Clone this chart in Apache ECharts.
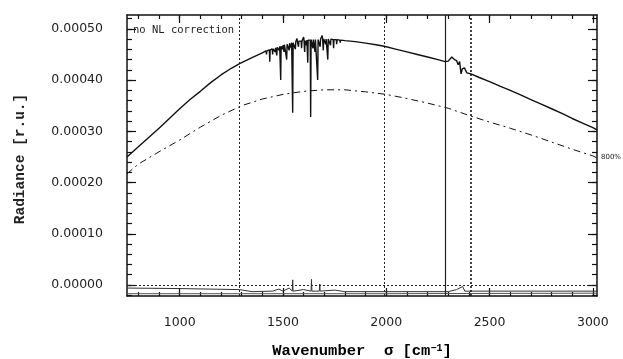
<!DOCTYPE html>
<html><head><meta charset="utf-8">
<script src="https://cdn.jsdelivr.net/npm/echarts@6/dist/echarts.min.js"></script>
<style>html,body{margin:0;padding:0;background:#fff}#c{width:623px;height:359px}</style>
</head><body><div id="c"></div>
<script>
// ---- data (wavenumber in cm^-1, radiance in r.u.) ----
const mainSpectrum = [
 [745,2.50e-4],[800,2.70e-4],[850,2.88e-4],[900,3.06e-4],[950,3.25e-4],[1000,3.44e-4],[1050,3.62e-4],
 [1100,3.78e-4],[1150,3.95e-4],[1200,4.10e-4],[1250,4.23e-4],[1290,4.32e-4],[1350,4.44e-4],[1400,4.53e-4],
 [1418,4.57e-4],[1420,4.50e-4],[1422,4.57e-4],
 [1434,4.59e-4],[1436,4.36e-4],[1438,4.59e-4],
 [1448,4.61e-4],[1450,4.50e-4],[1452,4.61e-4],
 [1460,4.63e-4],[1462,4.55e-4],[1464,4.63e-4],
 [1468,4.64e-4],[1470,4.48e-4],[1472,4.64e-4],
 [1480,4.65e-4],[1482,4.58e-4],[1484,4.66e-4],
 [1487,4.66e-4],[1489,4.00e-4],[1491,4.66e-4],
 [1496,4.67e-4],[1498,4.60e-4],[1500,4.68e-4],
 [1503,4.68e-4],[1505,4.55e-4],[1507,4.69e-4],
 [1516,4.70e-4],[1518,4.40e-4],[1520,4.70e-4],
 [1528,4.71e-4],[1530,4.58e-4],[1532,4.72e-4],
 [1538,4.72e-4],[1540,4.62e-4],[1542,4.73e-4],
 [1545,4.73e-4],[1547,3.36e-4],[1549,4.73e-4],
 [1558,4.74e-4],[1560,4.60e-4],[1562,4.75e-4],
 [1566,4.75e-4],[1568,4.81e-4],[1570,4.75e-4],
 [1573,4.76e-4],[1575,4.65e-4],[1577,4.76e-4],
 [1588,4.76e-4],[1590,4.62e-4],[1592,4.76e-4],
 [1598,4.77e-4],[1600,4.84e-4],[1602,4.77e-4],
 [1603,4.77e-4],[1605,4.55e-4],[1607,4.77e-4],
 [1612,4.78e-4],[1614,4.68e-4],[1616,4.78e-4],
 [1618,4.78e-4],[1620,4.34e-4],[1622,4.78e-4],
 [1632,4.78e-4],[1634,3.28e-4],[1636,4.79e-4],
 [1643,4.79e-4],[1645,4.62e-4],[1647,4.79e-4],
 [1653,4.79e-4],[1655,4.55e-4],[1657,4.79e-4],
 [1666,4.79e-4],[1668,4.00e-4],[1670,4.79e-4],
 [1678,4.80e-4],[1680,4.65e-4],[1682,4.80e-4],
 [1688,4.80e-4],[1690,4.87e-4],[1692,4.80e-4],
 [1693,4.80e-4],[1695,4.58e-4],[1697,4.80e-4],
 [1705,4.80e-4],[1707,4.70e-4],[1709,4.80e-4],
 [1715,4.80e-4],[1717,4.40e-4],[1719,4.80e-4],
 [1728,4.80e-4],[1730,4.68e-4],[1732,4.80e-4],
 [1743,4.79e-4],[1745,4.62e-4],[1747,4.79e-4],
 [1758,4.79e-4],[1760,4.70e-4],[1762,4.79e-4],
 [1775,4.78e-4],[1777,4.73e-4],[1779,4.78e-4],
 [1800,4.77e-4],[1850,4.75e-4],[1900,4.72e-4],[1950,4.69e-4],[1990,4.66e-4],[2050,4.60e-4],
 [2100,4.55e-4],[2150,4.50e-4],[2200,4.45e-4],[2250,4.40e-4],[2285,4.36e-4],
 [2300,4.37e-4],[2317,4.45e-4],[2330,4.40e-4],[2340,4.38e-4],[2348,4.30e-4],[2355,4.36e-4],
 [2362,4.12e-4],[2368,4.22e-4],[2378,4.24e-4],[2390,4.14e-4],[2410,4.12e-4],
 [2450,4.05e-4],[2500,3.97e-4],[2550,3.88e-4],[2600,3.80e-4],[2650,3.71e-4],[2700,3.62e-4],
 [2750,3.53e-4],[2800,3.44e-4],[2850,3.35e-4],[2900,3.25e-4],[2950,3.16e-4],[3000,3.07e-4],[3020,3.03e-4]
];
const scaledSpectrum = [
 [745,2.17e-4],[800,2.36e-4],[900,2.60e-4],[1000,2.83e-4],[1100,3.08e-4],[1200,3.31e-4],[1300,3.50e-4],
 [1400,3.63e-4],[1500,3.72e-4],[1600,3.78e-4],[1700,3.81e-4],[1800,3.81e-4],[1900,3.77e-4],[2000,3.72e-4],
 [2100,3.64e-4],[2200,3.55e-4],[2300,3.45e-4],[2400,3.31e-4],[2500,3.18e-4],[2600,3.06e-4],[2700,2.93e-4],
 [2800,2.79e-4],[2900,2.65e-4],[3000,2.52e-4],[3020,2.48e-4]
];
const residualA = [
 [745,-0.6e-5],[1000,-0.7e-5],[1290,-0.9e-5],[1350,-1.3e-5],[1450,-1.2e-5],[1480,-0.8e-5],[1500,-1.2e-5],
 [1530,-0.6e-5],[1545,-1.2e-5],[1547,1.0e-5],[1549,-1.2e-5],[1600,-0.9e-5],[1636,-1.2e-5],[1638,1.1e-5],
 [1640,-1.2e-5],[1676,-1.2e-5],[1678,0.2e-5],[1680,-1.2e-5],[1750,-1.0e-5],[1800,-1.3e-5],[2300,-1.3e-5],
 [2340,-0.9e-5],[2370,-0.3e-5],[2380,-1.2e-5],[3020,-1.2e-5]
];
const residualB = [[745,-1.7e-5],[1300,-1.7e-5],[2000,-1.7e-5],[3020,-1.6e-5]];
const dottedVerticals = [1290, 1990, 2410];
const solidVerticals = [2285];
const zeroLine = 0.4e-5;
const xMajorTicks = [1000,1500,2000,2500,3000];
const xMinorTicks = [800,900,1000,1100,1200,1300,1400,1500,1600,1700,1800,1900,2000,2100,2200,2300,2400,2500,2600,2700,2800,2900,3000];
const yMajorTicks = [0,1e-4,2e-4,3e-4,4e-4,5e-4];
const yMinorTicks = [-2e-5,0,2e-5,4e-5,6e-5,8e-5,1e-4,1.2e-4,1.4e-4,1.6e-4,1.8e-4,2e-4,2.2e-4,2.4e-4,2.6e-4,2.8e-4,3e-4,3.2e-4,3.4e-4,3.6e-4,3.8e-4,4e-4,4.2e-4,4.4e-4,4.6e-4,4.8e-4,5e-4,5.2e-4];
const xMin = 745, xMax = 3020, yMin = -2.15e-5, yMax = 5.27e-4;

const chart = echarts.init(document.getElementById('c'), null, {renderer:'canvas'});
const lineCol = '#111';
function xAx(pos, major, showLabel, showLine){
  return {type:'value', position:pos, min:xMin, max:xMax, gridIndex:0,
    axisLine:{show:showLine, onZero:false, lineStyle:{color:lineCol, width:1.5}},
    axisTick:{show:true, inside:true, length: major?8:4, customValues: major?xMajorTicks:xMinorTicks, lineStyle:{color:lineCol,width:1.2}},
    axisLabel:{show:showLabel, customValues:xMajorTicks, margin:20, color:'#222', fontFamily:'DejaVu Sans', fontSize:12.5,
      formatter: v => String(Math.round(v))},
    splitLine:{show:false}};
}
function yAx(pos, major, showLabel, showLine){
  return {type:'value', position:pos, min:yMin, max:yMax, gridIndex:0,
    axisLine:{show:showLine, onZero:false, lineStyle:{color:lineCol, width:1.5}},
    axisTick:{show:true, inside:true, length: major?9:5, customValues: major?yMajorTicks:yMinorTicks, lineStyle:{color:lineCol,width:1.2}},
    axisLabel:{show:showLabel, customValues:yMajorTicks, margin:24, color:'#222', fontFamily:'DejaVu Sans', fontSize:12.5,
      formatter: v => Math.abs(v) < 1e-12 ? '0.00000' : v.toFixed(5)},
    splitLine:{show:false}};
}
const option = {
  animation:false,
  backgroundColor:'#fff',
  grid:{left:127, right:26, top:15, bottom:63, containLabel:false},
  xAxis:[xAx('bottom',true,true,true), xAx('bottom',false,false,false), xAx('top',true,false,true), xAx('top',false,false,false)],
  yAxis:[yAx('left',true,true,true), yAx('left',false,false,false), yAx('right',true,false,true), yAx('right',false,false,false)],
  series:[
    {type:'line', data:mainSpectrum, symbol:'none', lineStyle:{color:lineCol,width:1.4}, z:5,
     markLine:{silent:true, symbol:'none', label:{show:false},
       data:[
         ...dottedVerticals.map(v=>({xAxis:v, lineStyle:{type:[2,2], color:'#222', width: v===2410?1.7:1}})),
         ...solidVerticals.map(v=>({xAxis:v, lineStyle:{type:'solid', color:'#222', width:1.2}})),
         {yAxis:zeroLine, lineStyle:{type:[2,2], color:'#222', width:1}}
       ]}},
    {type:'line', data:scaledSpectrum, symbol:'none', lineStyle:{color:lineCol,width:1, type:[7,4,2,4]}, z:4},
    {type:'line', data:residualA, symbol:'none', lineStyle:{color:'#333',width:1}, z:3},
    {type:'line', data:residualB, symbol:'none', lineStyle:{color:'#555',width:1}, z:3}
  ],
  graphic:[
    {type:'text', left:133, top:25, style:{text:'no NL correction', fontFamily:'DejaVu Sans Mono', fontSize:10.5, fill:'#222'}},
    {type:'text', x:601, y:157, style:{text:'800%', fontFamily:'DejaVu Sans', fontSize:7, fill:'#222', verticalAlign:'middle'}},
    {type:'text', x:20, y:159, rotation:Math.PI/2, style:{text:'Radiance [r.u.]', align:'center', verticalAlign:'middle', fontFamily:'Liberation Mono', fontWeight:'bold', fontSize:14.5, fill:'#222'}},
    {type:'text', x:362, y:351, style:{text:'{a|Wavenumber  σ [cm}{s|−1}{a|]}', align:'center', verticalAlign:'middle',
      rich:{a:{fontFamily:'Liberation Mono', fontWeight:'bold', fontSize:15.5, color:'#222'},
            s:{fontFamily:'Liberation Mono', fontWeight:'bold', fontSize:10, color:'#222', verticalAlign:'top', padding:[0,0,6,0]}}}}
  ]
};
chart.setOption(option);
</script></body></html>
